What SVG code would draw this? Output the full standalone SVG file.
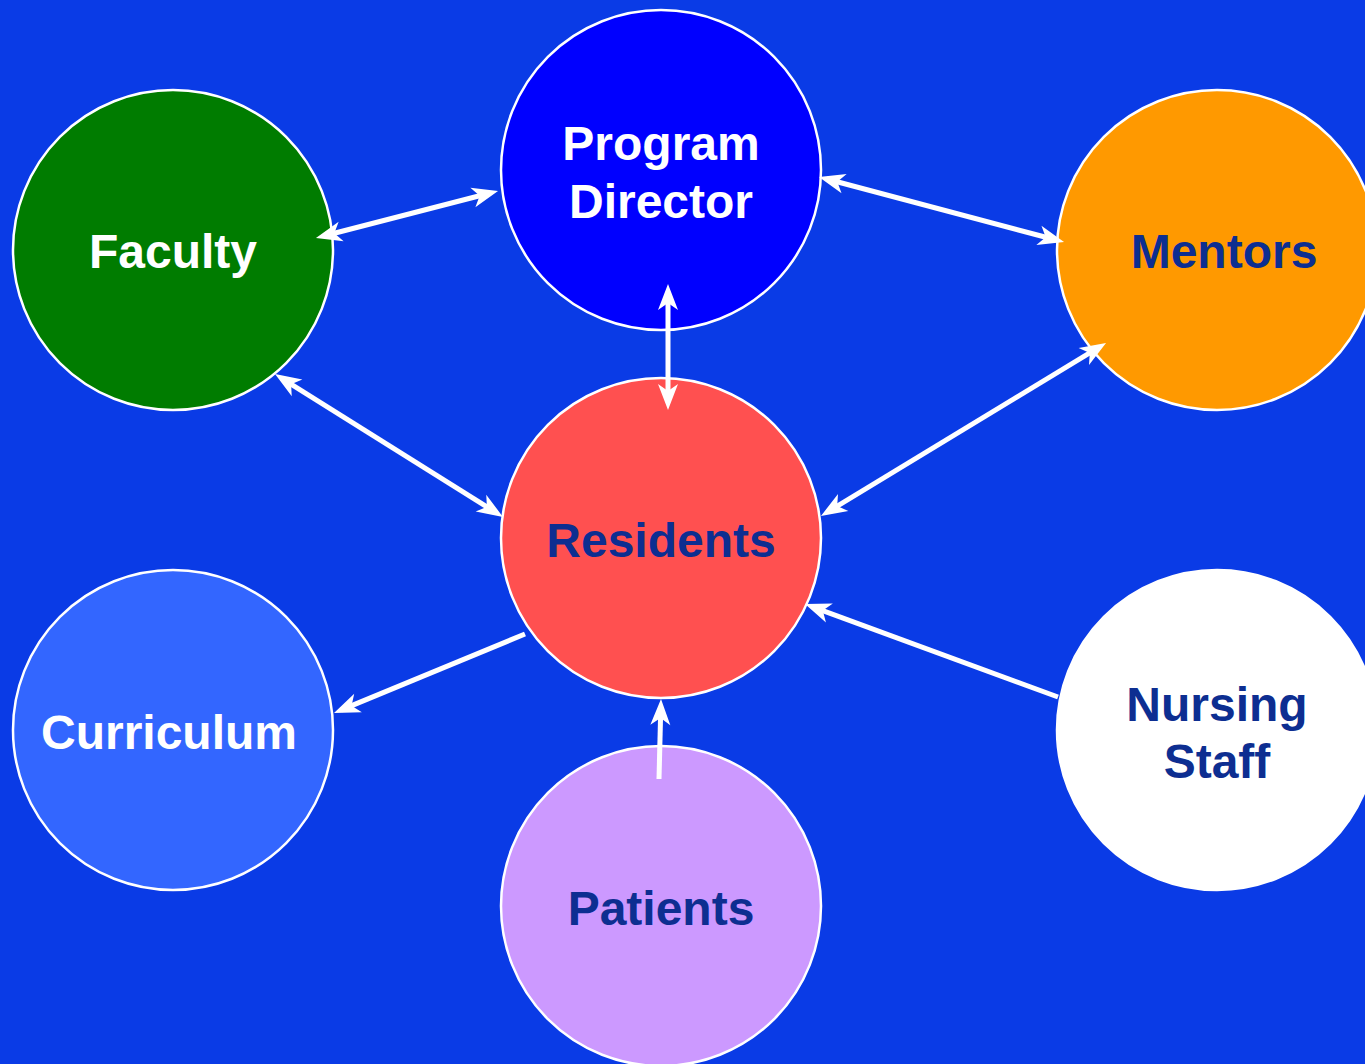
<svg xmlns="http://www.w3.org/2000/svg" width="1365" height="1064" viewBox="0 0 1365 1064">
<defs>
<style>
.node{stroke:#ffffff;stroke-width:2.5}
.lbl{font-family:"Liberation Sans",Arial,sans-serif;font-weight:bold;font-size:48px;text-anchor:middle}
.w{fill:#ffffff}
.d{fill:#0d2e91}
.conn line{stroke:#ffffff;stroke-width:5;fill:none}
</style>
<marker id="ah" markerUnits="userSpaceOnUse" markerWidth="30" markerHeight="24" viewBox="0 -12 30 24" refX="18" refY="0" orient="auto-start-reverse" overflow="visible">
<path d="M26,0 L0,-10 L7,0 L0,10 Z" fill="#ffffff"/>
</marker>
</defs>
<rect x="0" y="0" width="1365" height="1064" fill="#0a3be6"/>
<g id="faculty"><circle class="node" cx="173" cy="250" r="160" fill="#007c00"/><text class="lbl w" x="173" y="268">Faculty</text></g>
<g id="program-director"><circle class="node" cx="661" cy="170" r="160" fill="#0000ff"/><text class="lbl w" x="661" y="160">Program</text><text class="lbl w" x="661" y="218">Director</text></g>
<g id="mentors"><circle class="node" cx="1217" cy="250" r="160" fill="#ff9900"/><text class="lbl d" x="1224" y="268">Mentors</text></g>
<g id="residents"><circle class="node" cx="661" cy="538" r="160" fill="#ff5050"/><text class="lbl d" x="661" y="557">Residents</text></g>
<g id="curriculum"><circle class="node" cx="173" cy="730" r="160" fill="#3366ff"/><text class="lbl w" x="169" y="749">Curriculum</text></g>
<g id="patients"><circle class="node" cx="661" cy="906" r="160" fill="#cc99ff"/><text class="lbl d" x="661" y="925">Patients</text></g>
<g id="nursing-staff"><circle class="node" cx="1217" cy="730" r="160" fill="#ffffff"/><text class="lbl d" x="1217" y="721">Nursing</text><text class="lbl d" x="1217" y="778">Staff</text></g>
<g id="connectors" class="conn">
<line x1="323.7" y1="236" x2="490.3" y2="193" marker-start="url(#ah)" marker-end="url(#ah)"/>
<line x1="826.7" y1="179" x2="1056.3" y2="240" marker-start="url(#ah)" marker-end="url(#ah)"/>
<line x1="668" y1="292" x2="668" y2="402" marker-start="url(#ah)" marker-end="url(#ah)"/>
<line x1="281.8" y1="378.3" x2="496.2" y2="512.7" marker-start="url(#ah)" marker-end="url(#ah)"/>
<line x1="1099.2" y1="347.2" x2="827.8" y2="511.8" marker-start="url(#ah)" marker-end="url(#ah)"/>
<line x1="525" y1="634" x2="341.4" y2="709.9" marker-end="url(#ah)"/>
<line x1="1058" y1="697" x2="812.5" y2="606.8" marker-end="url(#ah)"/>
<line x1="659" y1="779" x2="660.8" y2="707" marker-end="url(#ah)"/>
</g>
</svg>
